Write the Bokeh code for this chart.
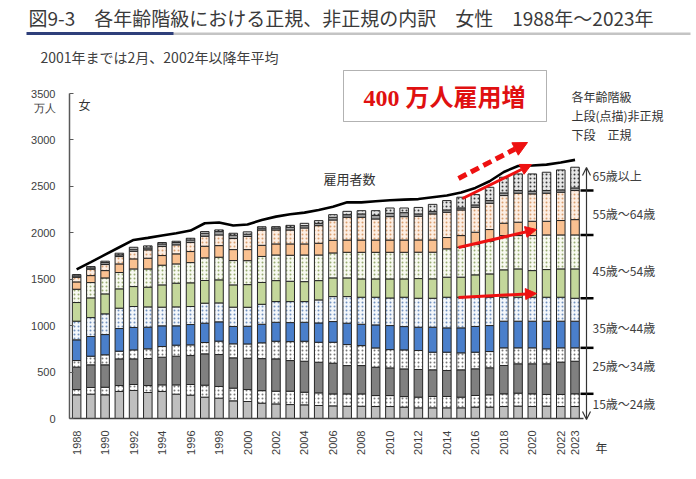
import numpy as np
from bokeh.plotting import figure
from bokeh.models import Range1d, FixedTicker, Label, Arrow, OpenHead, NormalHead, BoxAnnotation
from bokeh.embed import file_html
from bokeh.resources import INLINE

years = list(range(1988, 2024))

reg_15_24 = [255, 262, 255, 291, 302, 280, 291, 262, 251, 230, 219, 190, 183, 165, 157, 150, 147, 140,
             136, 132, 132, 129, 129, 122, 115, 115, 115, 115, 122, 122, 129, 133, 129, 133, 129, 129]
non_15_24 = [57, 72, 82, 64, 64, 75, 71, 100, 115, 129, 126, 137, 129, 135, 137, 144, 136, 136,
             129, 133, 133, 118, 118, 114, 115, 122, 122, 115, 126, 133, 137, 140, 137, 126, 130, 137]
reg_25_34 = [241, 244, 241, 287, 276, 291, 298, 309, 312, 337, 344, 326, 337, 345, 348, 330, 334, 330,
             330, 305, 305, 305, 298, 298, 298, 287, 280, 294, 287, 291, 305, 316, 323, 330, 348, 351]
non_25_34 = [71, 93, 108, 83, 97, 104, 115, 119, 115, 122, 144, 151, 154, 170, 190, 204, 215, 215,
             226, 226, 215, 208, 197, 205, 204, 190, 197, 183, 179, 175, 190, 172, 172, 161, 154, 144]
reg_35_44 = [223, 212, 218, 244, 241, 233, 223, 208, 219, 208, 208, 187, 190, 200, 204, 205, 204, 208,
             223, 230, 230, 248, 259, 251, 251, 269, 262, 269, 277, 280, 287, 287, 287, 298, 287, 287]
non_35_44 = [201, 204, 223, 219, 226, 219, 201, 204, 194, 216, 204, 208, 205, 215, 223, 226, 223, 248,
             269, 287, 291, 298, 297, 316, 312, 312, 330, 330, 315, 305, 258, 258, 258, 258, 258, 247]
reg_45_54 = [201, 212, 215, 208, 215, 212, 240, 255, 255, 244, 248, 240, 244, 235, 226, 219, 215, 208,
             201, 201, 197, 197, 205, 197, 212, 209, 216, 216, 241, 251, 295, 305, 287, 298, 305, 316]
non_45_54 = [143, 165, 172, 176, 190, 197, 212, 208, 218, 244, 244, 262, 258, 280, 276, 280, 287, 276,
             269, 276, 287, 287, 287, 287, 284, 287, 305, 322, 326, 352, 369, 359, 377, 373, 366, 366]
reg_55_64 = [79, 75, 79, 93, 108, 115, 104, 108, 119, 125, 125, 118, 119, 120, 119, 122, 119, 126,
             136, 132, 132, 132, 132, 132, 132, 132, 122, 126, 133, 126, 133, 144, 154, 147, 155, 165]
non_55_64 = [50, 69, 65, 79, 82, 90, 97, 97, 97, 108, 115, 119, 141, 165, 150, 150, 172, 190,
             219, 245, 245, 227, 252, 252, 255, 280, 272, 276, 269, 283, 298, 312, 295, 302, 305, 313]
reg_65 = [15, 14, 21, 18, 22, 21, 28, 25, 28, 32, 36, 36, 25, 20, 22, 29, 25, 25,
          29, 28, 36, 39, 36, 43, 25, 25, 25, 22, 25, 29, 28, 29, 28, 29, 25, 28]
non_65 = [14, 14, 15, 18, 21, 22, 15, 14, 18, 18, 18, 21, 25, 15, 14, 21, 25, 29,
          28, 36, 35, 50, 57, 50, 70, 78, 101, 115, 111, 143, 169, 179, 187, 197, 215, 223]

employees = [1605, 1684, 1764, 1844, 1923, 1945, 1970, 1995, 2024, 2103, 2110, 2078, 2090, 2138, 2174, 2199,
             2217, 2246, 2281, 2328, 2328, 2339, 2350, 2357, 2363, 2382, 2401, 2433, 2483, 2555, 2655, 2720,
             2724, 2734, 2756, 2785]

xtick_years = list(range(1988, 2023, 2)) + [2023]
ytick_vals = list(range(0, 3501, 500))
group_labels = ["15歳～24歳", "25歳～34歳", "35歳～44歳", "45歳～54歳", "55歳～64歳", "65歳以上"]
legend_lines = ["各年齢階級", "上段(点描)非正規", "下段　正規"]
title_text = "図9-3　各年齢階級における正規、非正規の内訳　女性　1988年～2023年"
subtitle_text = "2001年までは2月、2002年以降年平均"

JP = "Noto Sans CJK JP"
W, H = 696, 479
PX_PER_YEAR = 14.24
PX_PER_UNIT = 325 / 3500


# picture pixel -> data coordinates (used only to place annotations)
def dx(px):
    return 1987.5 + (px - 69) / PX_PER_YEAR


def dy(py):
    return (418 - py) / PX_PER_UNIT


p = figure(width=W, height=H, output_backend="svg", toolbar_location=None,
           x_range=Range1d(dx(0), dx(W)), y_range=Range1d(dy(H), dy(0)),
           min_border=0, min_border_left=0, min_border_right=0,
           min_border_top=0, min_border_bottom=0)
p.title.visible = False
p.outline_line_color = None
p.xgrid.visible = False
p.ygrid.visible = False
p.background_fill_color = "white"

segs = [
    (reg_15_24, "#bfbfbf", None, None),
    (non_15_24, "#ffffff", "dot", "#7a7a7a"),
    (reg_25_34, "#808080", None, None),
    (non_25_34, "#ffffff", "dot", "#7a7a7a"),
    (reg_35_44, "#4a7fcb", None, None),
    (non_35_44, "#f4f7fb", "dot", "#7393c0"),
    (reg_45_54, "#c4d79b", None, None),
    (non_45_54, "#f8faf1", "dot", "#9aad74"),
    (reg_55_64, "#fac191", None, None),
    (non_55_64, "#fdeee3", "dot", "#d9a070"),
    (reg_65, "#a0a0a0", None, None),
    (non_65, "#e6e6e6", "dot", "#3a3a3a"),
]

x = np.array(years, dtype=float)
bottom = np.zeros(len(years))
cum_tops = []
for vals, fill, hatch, hcol in segs:
    top = bottom + np.array(vals, dtype=float)
    kw = dict(x=x, width=0.6, bottom=bottom, top=top, fill_color=fill,
              line_color="#262626", line_width=1)
    if hatch:
        kw.update(hatch_pattern=hatch, hatch_color=hcol, hatch_scale=4, hatch_weight=1)
    p.vbar(**kw)
    cum_tops.append(top)
    bottom = top

p.line(x, employees, line_color="black", line_width=2.6)

# axes drawn at fixed data locations inside the full-canvas frame
p.yaxis.fixed_location = 1987.5
p.yaxis.ticker = FixedTicker(ticks=ytick_vals)
p.yaxis.major_label_overrides = {3500: "\n3500\n万人"}
p.yaxis.bounds = (0, 3500)
p.yaxis.axis_line_color = "#595959"
p.yaxis.axis_line_width = 1.5
p.yaxis.major_tick_in = 4
p.yaxis.major_tick_out = 0
p.yaxis.major_tick_line_color = "#595959"
p.yaxis.minor_tick_line_color = None
p.yaxis.major_label_standoff = 14
p.yaxis.major_label_text_font = "Liberation Sans"
p.yaxis.major_label_text_font_size = "11px"
p.yaxis.major_label_text_color = "#404040"

p.xaxis.fixed_location = 0
p.xaxis.ticker = FixedTicker(ticks=xtick_years)
p.xaxis.bounds = (1987.5, 2023.6)
p.xaxis.axis_line_color = "#404040"
p.xaxis.axis_line_width = 1.5
p.xaxis.major_tick_line_color = None
p.xaxis.minor_tick_line_color = None
p.xaxis.major_label_orientation = np.pi / 2
p.xaxis.major_label_standoff = 6
p.xaxis.major_label_text_font = "Liberation Sans"
p.xaxis.major_label_text_font_size = "11px"
p.xaxis.major_label_text_color = "#404040"


def lab(px, py, text, size="12px", color="#404040", align="left", font=JP, style="normal"):
    p.add_layout(Label(x=dx(px), y=dy(py), text=text, text_font=font, text_font_size=size,
                       text_color=color, text_align=align, text_baseline="middle",
                       text_font_style=style))


# title, rule, subtitle
lab(28, 17, title_text, size="19px", color="#3a3a3a")
p.add_layout(BoxAnnotation(left=dx(172), right=dx(690), top=dy(32), bottom=dy(34.5),
                           fill_color="#c4c4c4", fill_alpha=1, line_color=None))
p.add_layout(BoxAnnotation(left=dx(26), right=dx(173), top=dy(31.5), bottom=dy(34.5),
                           fill_color="#2e3f7a", fill_alpha=1, line_color=None))
lab(40, 56, subtitle_text, size="14px")

lab(78, 104, "女", size="12px", color="#333333")
lab(595, 447, "年", size="12px", color="#333333")
lab(323, 178, "雇用者数", size="13px", color="#333333")

for i, t in enumerate(legend_lines):
    lab(571, 96 + 19 * i, t, size="12px", color="#333333")

# red box
p.add_layout(BoxAnnotation(left=dx(343), right=dx(546), top=dy(70), bottom=dy(121),
                           fill_color="white", fill_alpha=1, line_color="black", line_width=1))
lab(444, 97, "400 万人雇用増", size="24px", color="#e01010", align="center",
    font="Liberation Serif, Noto Sans CJK JP", style="bold")

# red arrows
p.add_layout(Arrow(x_start=dx(458), y_start=dy(178), x_end=dx(527), y_end=dy(142),
                   line_color="#ee1111", line_width=5, line_dash="9 5",
                   end=NormalHead(size=14, fill_color="#ee1111", line_color="#ee1111")))
for (a, b, c, d) in [(462, 198, 531, 164), (458, 247, 536, 229), (458, 297, 536, 293)]:
    p.add_layout(Arrow(x_start=dx(a), y_start=dy(b), x_end=dx(c), y_end=dy(d),
                       line_color="#ee1111", line_width=3,
                       end=NormalHead(size=11, fill_color="#ee1111", line_color="#ee1111")))

# right bracket with age-group boundaries of the last bar
p.add_layout(Arrow(x_start=dx(586), y_start=dy(419), x_end=dx(586), y_end=dy(167),
                   line_color="#333333", line_width=1.2,
                   start=OpenHead(size=8, line_color="#333333", line_width=1.2),
                   end=OpenHead(size=8, line_color="#333333", line_width=1.2)))
bounds_2023 = [cum_tops[k][-1] for k in (1, 3, 5, 7, 9)]
p.segment(x0=[dx(580)] * 5, x1=[dx(593)] * 5, y0=bounds_2023, y1=bounds_2023,
          line_color="black", line_width=2.5)
for py, t in zip([403, 365, 327, 270, 213, 175], group_labels):
    lab(592, py, t, size="12px", color="#404040")

open("out.html", "w").write(file_html(p, INLINE))
